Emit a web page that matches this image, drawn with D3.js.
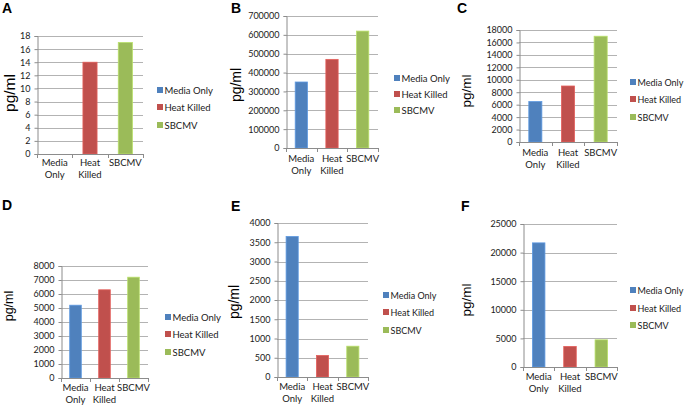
<!DOCTYPE html>
<html><head><meta charset="utf-8">
<script src="https://cdn.jsdelivr.net/npm/d3@7"></script>
<style>
html,body{margin:0;padding:0;background:#fff;}
svg{display:block;}
</style></head>
<body>
<svg id="chart" width="685" height="408"></svg>
<script>
// ---- data ----
const categories = ["Media Only", "Heat Killed", "SBCMV"];
const categoryLines = [["Media", "Only"], ["Heat", "Killed"], ["SBCMV"]];
const colors = ["#4F81BD", "#C0504D", "#9BBB59"];
const valuesA = [0, 14, 17];
const valuesB = [350000, 470000, 620000];
const valuesC = [6500, 9000, 17000];
const valuesD = [5200, 6300, 7200];
const valuesE = [3650, 560, 800];
const valuesF = [21700, 3600, 4750];
const ticksA = [0, 2, 4, 6, 8, 10, 12, 14, 16, 18];
const ticksB = [0, 100000, 200000, 300000, 400000, 500000, 600000, 700000];
const ticksC = [0, 2000, 4000, 6000, 8000, 10000, 12000, 14000, 16000, 18000];
const ticksD = [0, 1000, 2000, 3000, 4000, 5000, 6000, 7000, 8000];
const ticksE = [0, 500, 1000, 1500, 2000, 2500, 3000, 3500, 4000];
const ticksF = [0, 5000, 10000, 15000, 20000, 25000];
const yLabel = "pg/ml";

// ---- layout ----
const panels = [
  {letter:"A", values:valuesA, ticks:ticksA, lx:2,  ly:13, x0:37,  x1:143, y0:36,  y1:154, legX:157, legY:[90,107,125], legFs:9.5, labX:15,  labY:93,  labFs:15.5, catY:166},
  {letter:"B", values:valuesB, ticks:ticksB, lx:231,ly:13, x0:286, x1:378, y0:16,  y1:148, legX:394, legY:[78,94,110],  legFs:9.5, labX:241, labY:85,  labFs:14, catY:162},
  {letter:"C", values:valuesC, ticks:ticksC, lx:457,ly:13, x0:519, x1:617, y0:30,  y1:142, legX:630, legY:[82,99,117],  legFs:9, labX:471, labY:91,  labFs:13.5, catY:156},
  {letter:"D", values:valuesD, ticks:ticksD, lx:2,  ly:210,x0:61,  x1:148, y0:266, y1:378, legX:165, legY:[317,334,352],legFs:9.5, labX:13,  labY:306, labFs:12.5, catY:391},
  {letter:"E", values:valuesE, ticks:ticksE, lx:231,ly:211,x0:277, x1:368, y0:223, y1:377, legX:383, legY:[295,312,330],legFs:9, labX:239, labY:302, labFs:14, catY:390},
  {letter:"F", values:valuesF, ticks:ticksF, lx:461,ly:211,x0:523, x1:617, y0:224, y1:367, legX:630, legY:[290,308,325],legFs:9, labX:471, labY:300, labFs:13.5, catY:380}
];

const svg = d3.select("#chart");
const tickFont = "Lato, 'Open Sans', sans-serif";

panels.forEach(p => {
  const g = svg.append("g");
  const x = d3.scaleBand().domain(categories).range([p.x0, p.x1]).paddingInner(0.6).paddingOuter(0.3);
  const y = d3.scaleLinear().domain([0, d3.max(p.ticks)]).range([p.y1, p.y0]);

  // gridlines
  g.append("g").selectAll("line").data(p.ticks.filter(t => t > 0)).join("line")
    .attr("x1", p.x0).attr("x2", p.x1)
    .attr("y1", d => Math.round(y(d)) + 0.5).attr("y2", d => Math.round(y(d)) + 0.5)
    .attr("stroke", "#b3b3b3").attr("stroke-width", 1);

  // bars
  g.append("g").selectAll("rect").data(p.values).join("rect")
    .attr("x", (d, i) => x(categories[i]))
    .attr("width", x.bandwidth())
    .attr("y", d => y(d))
    .attr("height", d => y(0) - y(d))
    .attr("fill", (d, i) => colors[i])
    .attr("stroke", (d, i) => d3.color(colors[i]).brighter(0.5))
    .attr("stroke-width", 0.8);

  // y axis
  const yAxis = d3.axisLeft(y).tickValues(p.ticks).tickSize(3).tickPadding(4).tickFormat(d3.format("d"));
  const ya = g.append("g").attr("transform", `translate(${p.x0 + 0.5},0)`).call(yAxis);
  ya.select(".domain").attr("stroke", "#8c8c8c");
  ya.selectAll(".tick line").attr("stroke", "#8c8c8c");
  ya.selectAll(".tick text").attr("fill", "#1a1a1a").style("font-family", tickFont).style("font-size", "9px");

  // x axis
  const xa = g.append("g");
  xa.append("line").attr("x1", p.x0).attr("x2", p.x1)
    .attr("y1", Math.round(p.y1) + 0.5).attr("y2", Math.round(p.y1) + 0.5).attr("stroke", "#8c8c8c");
  const step = x.step();
  const bounds = [0, 1, 2, 3].map(i => p.x0 + i * step);
  xa.selectAll("line.tk").data(bounds).join("line").attr("class", "tk")
    .attr("x1", d => Math.round(d) + 0.5).attr("x2", d => Math.round(d) + 0.5)
    .attr("y1", p.y1).attr("y2", p.y1 + 4).attr("stroke", "#8c8c8c");
  categories.forEach((c, i) => {
    const t = xa.append("text").attr("x", x(c) + x.bandwidth() / 2).attr("y", p.catY)
      .attr("text-anchor", "middle").attr("fill", "#1a1a1a")
      .style("font-family", tickFont).style("font-size", "9.5px");
    categoryLines[i].forEach((ln, k) => {
      t.append("tspan").attr("x", x(c) + x.bandwidth() / 2).attr("dy", k === 0 ? 0 : 11.5).text(ln);
    });
  });

  // legend
  const lg = g.append("g");
  categories.forEach((c, i) => {
    lg.append("rect").attr("x", p.legX).attr("y", p.legY[i] - 3).attr("width", 6).attr("height", 6).attr("fill", colors[i]);
    lg.append("text").attr("x", p.legX + 7.5).attr("y", p.legY[i] + 3.5)
      .attr("fill", "#1a1a1a").style("font-family", tickFont).style("font-size", p.legFs + "px").text(c);
  });

  // y label
  g.append("text").attr("transform", `translate(${p.labX},${p.labY}) rotate(-90)`)
    .attr("text-anchor", "middle").attr("fill", "#000")
    .style("font-family", "'Liberation Sans', Arial, sans-serif").style("font-size", p.labFs + "px").text(yLabel);

  // panel letter
  g.append("text").attr("x", p.lx).attr("y", p.ly).attr("fill", "#000")
    .style("font-family", "'Liberation Sans', Arial, sans-serif").style("font-weight", "bold").style("font-size", "14px").text(p.letter);
});
</script>
</body></html>
